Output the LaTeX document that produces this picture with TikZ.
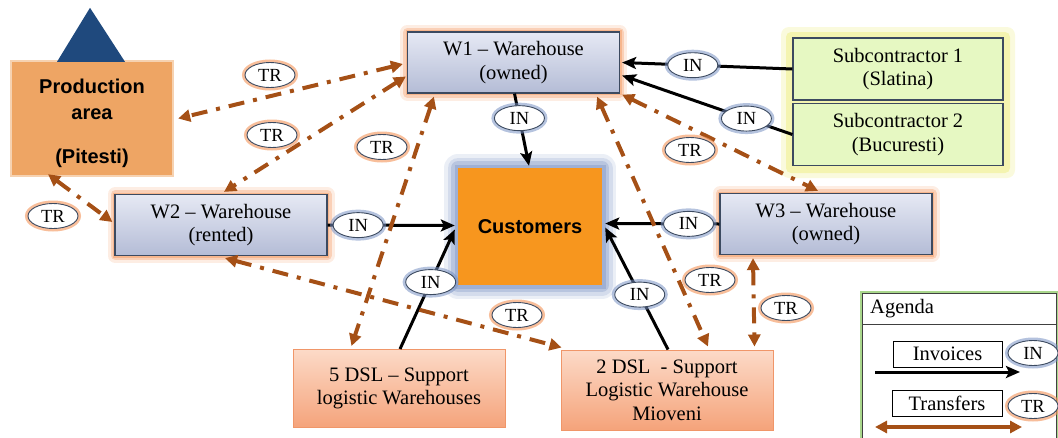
\documentclass[tikz,border=0pt]{standalone}
\usepackage{fontspec}
\setmainfont{Liberation Serif}
\newfontfamily\sansb{Liberation Sans}
\usetikzlibrary{shapes.geometric,arrows.meta,calc}
\definecolor{brn}{RGB}{165,80,22}
\definecolor{whtop}{RGB}{230,233,244}
\definecolor{whbot}{RGB}{180,188,214}
\definecolor{bord}{RGB}{60,74,96}
\definecolor{glowor}{RGB}{244,155,100}
\definecolor{glowbl}{RGB}{120,145,195}
\definecolor{glowye}{RGB}{236,236,120}
\definecolor{prodc}{RGB}{238,165,100}
\definecolor{custc}{RGB}{247,150,30}
\definecolor{subc}{RGB}{230,248,194}
\definecolor{dsltop}{RGB}{252,218,200}
\definecolor{dslbot}{RGB}{245,163,122}
\definecolor{dslbord}{RGB}{240,150,105}
\definecolor{triblue}{RGB}{31,73,125}
\definecolor{agreen}{RGB}{169,215,140}
\begin{document}
\begin{tikzpicture}[x=1pt,y=-1pt,
  txt/.style={font=\fontsize{20.5}{23.5}\selectfont, align=center, inner sep=0},
  glowO/.style={preaction={draw=glowor, line width=15, opacity=0.18, line join=round},
                preaction={draw=glowor, line width=9, opacity=0.35, line join=round},
                preaction={draw=glowor, line width=4, opacity=0.5}},
  whbox/.style={txt, rectangle, draw=bord, line width=1.2, top color=whtop, bottom color=whbot,
                minimum width=212, minimum height=61, glowO},
  subbox/.style={txt, rectangle, draw=bord, line width=1.2, fill=subc, minimum width=210, minimum height=62},
  dslbox/.style={txt, rectangle, draw=dslbord, line width=1, top color=dsltop, bottom color=dslbot,
                minimum width=212, minimum height=78},
  inel/.style={ellipse, draw=bord, line width=0.9, fill=white, minimum width=50, minimum height=25,
               inner sep=0, font=\fontsize{18.5}{18.5}\selectfont,
               preaction={draw=glowbl, line width=6, opacity=0.55}},
  trel/.style={ellipse, draw=bord, line width=0.9, fill=white, minimum width=50, minimum height=25,
               inner sep=0, font=\fontsize{18.5}{18.5}\selectfont,
               preaction={draw=glowor, line width=6, opacity=0.65}},
  inar/.style={black, line width=3, -{Stealth[length=14pt, width=12pt, inset=3pt]}},
  trar/.style={brn, line width=4, dash pattern=on 16pt off 9pt on 4pt off 9pt,
               {Triangle[length=12pt,width=12pt]}-{Triangle[length=12pt,width=12pt]}},
  legbox/.style={txt, rectangle, draw=black, line width=0.8, fill=white, minimum width=109, minimum height=26}
]
\useasboundingbox (0,0) rectangle (1058,437);
\clip (0,0) rectangle (1058,437);

% production area
\node[rectangle, fill=prodc, minimum width=160, minimum height=113, inner sep=0,
      preaction={draw=prodc, line width=4, opacity=0.5}] (prod) at (92,118.5) {};
\node[align=center, inner sep=0, font=\sansb\bfseries\fontsize{20}{26}\selectfont] (prodt)
      at ($(prod.center)+(0,4.5)$) {Production\\area\\[18pt](Pitesti)};
\fill[triblue] ($(prod.north)+(-35,0)$) -- ($(prod.north)+(-2,-54)$) -- ($(prod.north)+(33,0)$) -- cycle;

% warehouses
\node[whbox] (W1) at (513.5,62.5) {W1 -- Warehouse\\(owned)};
\node[whbox] (W2) at (221,225) {W2 -- Warehouse\\(rented)};
\node[whbox] (W3) at (826,224) {W3 -- Warehouse\\(owned)};

% subcontractors with common yellow glow
\fill[glowye, opacity=0.25, rounded corners=8] (781,27) rectangle (1015,178);
\fill[glowye, opacity=0.45, rounded corners=5] (786,32) rectangle (1010,173);
\node[subbox] (sub1) at (898,69) {Subcontractor 1\\(Slatina)};
\node[subbox] (sub2) at (898,134.5) {Subcontractor 2\\(Bucuresti)};

% customers
\node[rectangle, fill=custc, minimum width=144, minimum height=117, inner sep=0,
      font=\sansb\bfseries\fontsize{20}{24}\selectfont,
      preaction={draw=glowbl, line width=28, opacity=0.15, line join=round},
      preaction={draw=glowbl, line width=21, opacity=0.2, line join=round},
      preaction={draw=glowbl, line width=14, opacity=0.3, line join=round},
      preaction={draw=glowbl, line width=7, opacity=0.4}] (cust) at (530,226.5) {Customers};

% DSL
\node[dslbox] (dsl5) at (399,388.5) {5 DSL -- Support\\logistic Warehouses};
\node[dslbox, minimum height=80] (dsl2) at (667,390) {2 DSL~ - Support\\Logistic Warehouse\\Mioveni};

% invoices (black)
\draw[inar] (sub1.west) -- node[inel, pos=0.585] {IN} ($(W1.east)+(2,0)$);
\draw[inar] (sub2.west) -- node[inel, pos=0.27] {IN} ($(W1.east)+(2,13)$);
\draw[inar] ($(W1.south)+(1,0)$) -- node[inel, pos=0.34] {IN} ($(cust.north)+(-1,-2)$);
\draw[inar] (W2.east) -- node[inel, pos=0.24] {IN} ($(cust.west)+(-3,-1)$);
\draw[inar] ($(dsl5.north)+(1,0)$) -- node[inel, pos=0.56] {IN} ($(cust.west)+(-3,3)$);
\draw[inar] (W3.west) -- node[inel, pos=0.27] {IN} ($(cust.east)+(3,-3)$);
\draw[inar] ($(dsl2.north)+(1,0)$) -- node[inel, pos=0.45] {IN} ($(cust.east)+(3,1)$);

% transfers (brown dash-dot)
\draw[trar] ($(W1.west)+(-4,1.5)$) -- ($(prod.east)+(6,0)$);
\draw[trar] ($(W1.west)+(-1,14)$) -- ($(W2.north)+(3,-2)$);
\draw[trar] ($(prod.south)+(-44,-1)$) -- ($(W2.west)+(-2,-3)$);
\draw[trar] ($(W1.south west)+(27,3)$) -- ($(dsl5.north west)+(59,-3)$);
\draw[trar] ($(W1.south east)+(-23,3)$) -- ($(dsl2.north)+(41,-3)$);
\draw[trar] ($(W1.south east)+(2,1)$) -- ($(W3.north)+(-8,-2)$);
\draw[trar] ($(W3.south)+(-73,3)$) -- ($(dsl2.north east)+(-19,-3)$);
\draw[trar] ($(W2.south)+(4,2)$) -- ($(dsl2.north west)+(1,-2)$);

\node[trel] (t1) at (270,75) {TR};
\node[trel] (t2) at (272,135) {TR};
\node[trel] (t3) at (53,216) {TR};
\node[trel] (t4) at (382,147) {TR};
\node[trel] (t5) at (710,280) {TR};
\node[trel] (t6) at (690,150) {TR};
\node[trel] (t7) at (786,308) {TR};
\node[trel] (t8) at (517,315) {TR};

% agenda
\node[rectangle, draw=black!75, line width=0.8, fill=white, anchor=north west,
      minimum width=194, minimum height=155, inner sep=0,
      preaction={draw=agreen, line width=5}] (ag) at (862,293) {};
\draw[black!75, line width=0.8] ($(ag.north west)+(0,31)$) -- ($(ag.north east)+(0,31)$);
\node[txt, anchor=west] (agt) at (870,309) {Agenda};
\node[legbox] (inv) at (947.5,354) {Invoices};
\node[legbox, minimum width=110] (trf) at (947,403) {Transfers};
\coordinate (ia) at (875,372);
\coordinate (ib) at (1020,372);
\draw[inar] (ia) -- (ib);
\coordinate (ta) at (875,427);
\coordinate (tb) at (1022,427);
\draw[brn, line width=4, {Triangle[length=12pt,width=12pt]}-{Triangle[length=12pt,width=12pt]}] (ta) -- (tb);
\node[inel] (lin) at (1033,353) {IN};
\node[trel] (ltr) at (1033,406) {TR};
\end{tikzpicture}
\end{document}
